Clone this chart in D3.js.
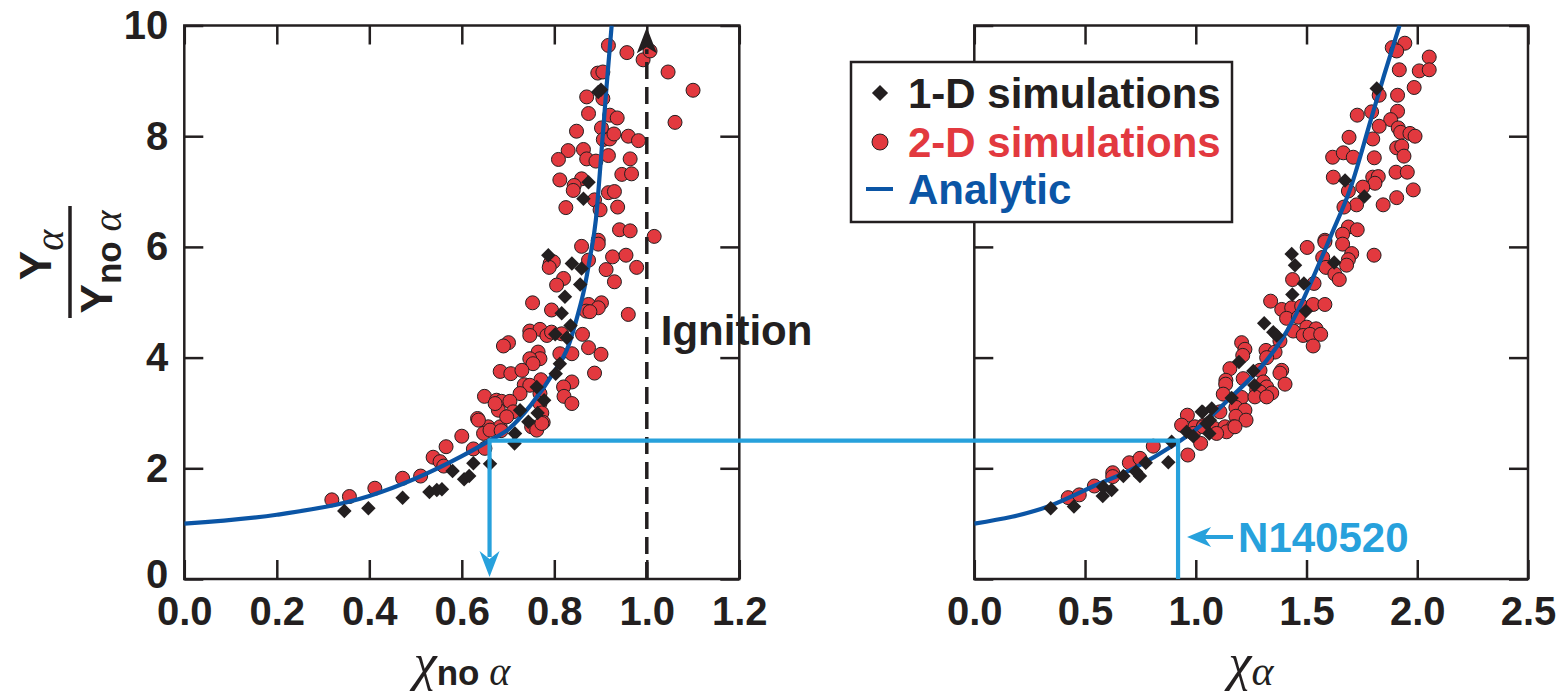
<!DOCTYPE html>
<html>
<head>
<meta charset="utf-8">
<script src="https://cdn.jsdelivr.net/npm/d3@7"></script>
<style>
  body { margin: 0; background: #fff; }
  svg text { font-family: "Liberation Sans", Arial, Helvetica, sans-serif; font-weight: bold; fill: #231f20; }
  .greek { font-family: "Liberation Serif", "DejaVu Serif", serif; font-style: italic; font-weight: normal; }
</style>
</head>
<body>
<div id="chart"></div>
<script>
// ---- data ----
// left panel: x = chi_no_alpha, y = Y_alpha / Y_no_alpha
const leftCircles = [
  [0.917,9.64],[0.957,9.51],[0.992,9.38],[1.007,9.54],[1.046,9.16],[1.10,8.83],[1.061,8.25],[0.894,9.14],[0.905,9.16],
  [0.870,8.71],[0.905,8.68],[0.874,8.41],[0.920,8.38],[0.936,8.33],[0.848,8.09],[0.902,8.15],[0.906,7.94],[0.920,7.95],
  [0.929,8.04],[0.960,8.0],[0.982,7.92],[0.830,7.74],[0.809,7.58],[0.863,7.76],[0.870,7.59],[0.890,7.55],[0.917,7.65],
  [0.964,7.59],[0.946,7.31],[0.967,7.32],[0.812,7.21],[0.859,7.23],[0.843,7.11],[0.841,7.02],[0.917,6.98],[0.930,7.0],
  [0.887,6.85],[0.899,6.67],[0.937,6.72],[0.825,6.71],[0.941,6.31],[0.964,6.29],[1.016,6.19],[0.895,6.12],
  [0.859,6.01],[0.895,6.05],[0.791,5.70],[0.798,5.73],[0.789,5.63],[0.874,5.76],[0.926,5.82],[0.955,5.85],[0.912,5.59],
  [0.978,5.63],[0.820,5.43],[0.805,5.31],[0.930,5.37],[0.753,4.99],[0.794,4.86],[0.874,4.96],[0.902,4.99],[0.895,4.90],
  [0.869,4.84],[0.877,4.83],[0.960,4.78],[0.747,4.48],[0.769,4.51],[0.747,4.40],[0.784,4.40],[0.794,4.46],[0.816,4.43],
  [0.861,4.42],[0.701,4.27],[0.690,4.21],[0.874,4.18],[0.901,4.06],[0.765,4.10],[0.769,3.98],[0.747,3.98],[0.754,3.89],
  [0.812,4.07],[0.838,4.07],[0.683,3.75],[0.706,3.71],[0.730,3.77],[0.887,3.72],[0.771,3.60],[0.838,3.56],[0.820,3.47],
  [0.735,3.51],[0.747,3.50],[0.726,3.35],[0.769,3.35],[0.821,3.30],[0.838,3.17],[0.649,3.30],[0.675,3.23],[0.686,3.21],
  [0.704,3.21],[0.679,3.05],[0.711,3.02],[0.769,3.17],[0.773,3.0],[0.634,2.90],[0.657,2.75],[0.683,2.75],[0.776,2.83],
  [0.751,2.75],[0.319,1.43],[0.357,1.49],[0.412,1.64],[0.472,1.82],[0.511,1.86],[0.538,2.20],[0.553,2.12],[0.561,2.04],
  [0.566,2.39],[0.600,2.58],[0.625,2.35],[0.636,2.87],[0.647,2.63],[0.661,2.69],[0.685,2.68],[0.650,2.36],[0.672,3.17],
  [0.697,2.93],[0.762,2.69],[0.773,2.81]
];
const leftDiamonds = [
  [0.901,8.84],[0.895,8.80],[0.874,7.17],[0.863,6.87],[0.787,5.85],[0.838,5.70],[0.859,5.61],[0.856,5.32],[0.823,5.10],
  [0.816,4.80],[0.835,4.58],[0.802,4.42],[0.827,4.36],[0.812,3.89],[0.803,3.71],[0.762,3.47],[0.778,3.23],[0.726,3.05],
  [0.764,3.0],[0.744,2.84],[0.346,1.23],[0.398,1.28],[0.472,1.47],[0.530,1.57],[0.546,1.61],[0.557,1.62],[0.580,1.95],
  [0.605,1.80],[0.616,1.86],[0.625,2.09],[0.661,2.08],[0.714,2.45],[0.715,2.63]
];
const leftAnalytic = [
  [0,1.0],[0.2,1.16],[0.4,1.5],[0.6,2.22],[0.66,2.5],[0.7,2.7],[0.75,3.15],[0.8,3.75],[0.83,4.2],[0.85,4.75],
  [0.865,5.25],[0.877,5.8],[0.89,6.5],[0.9,7.5],[0.913,8.9],[0.924,10.0]
];

// right panel: x = chi_alpha
const rightCircles = [
  [1.887,9.60],[1.944,9.68],[1.907,9.54],[2.054,9.43],[2.009,9.18],[2.054,9.20],[1.919,9.20],[1.986,8.88],[1.828,8.74],
  [1.911,8.74],[1.729,8.38],[1.794,8.44],[1.911,8.45],[1.880,8.30],[1.828,8.18],[1.914,8.15],[1.925,8.07],[1.967,8.05],
  [1.990,8.0],[1.692,7.98],[1.799,7.95],[1.907,7.79],[1.930,7.82],[1.940,7.64],[1.618,7.62],[1.666,7.70],[1.711,7.62],
  [1.806,7.61],[1.621,7.26],[1.799,7.26],[1.824,7.27],[1.904,7.35],[1.955,7.35],[1.809,7.15],[1.754,7.08],[1.689,7.01],
  [1.982,7.03],[1.907,6.89],[1.846,6.76],[1.726,6.76],[1.669,6.72],[1.689,6.36],[1.729,6.31],[1.663,6.23],[1.583,6.12],
  [1.503,5.99],[1.583,6.09],[1.663,6.05],[1.805,5.85],[1.573,5.81],[1.704,5.88],[1.588,5.63],[1.689,5.77],[1.681,5.67],
  [1.628,5.51],[1.648,5.41],[1.437,5.41],[1.534,5.34],[1.338,5.02],[1.388,4.87],[1.433,4.90],[1.478,4.93],[1.530,4.96],
  [1.583,4.96],[1.410,4.71],[1.463,4.73],[1.501,4.55],[1.543,4.52],[1.440,4.48],[1.485,4.40],[1.516,4.42],[1.564,4.42],
  [1.530,4.21],[1.380,4.30],[1.207,4.27],[1.222,4.15],[1.212,4.04],[1.317,4.13],[1.358,4.10],[1.320,4.00],[1.154,3.80],
  [1.290,3.77],[1.388,3.77],[1.380,3.72],[1.136,3.59],[1.214,3.62],[1.305,3.56],[1.403,3.52],[1.135,3.52],[1.320,3.47],
  [1.275,3.42],[1.124,3.34],[1.290,3.38],[1.343,3.36],[1.207,3.28],[1.267,3.29],[1.320,3.29],[1.181,3.10],[1.222,3.05],
  [1.181,2.94],[1.227,2.87],[1.109,3.02],[0.962,2.96],[0.936,2.78],[0.996,2.75],[1.037,2.78],[1.084,2.72],[1.132,2.75],
  [1.169,2.75],[0.424,1.47],[0.474,1.52],[0.542,1.68],[0.625,1.92],[0.625,1.85],[0.700,2.10],[0.748,2.18],[0.808,2.40],
  [0.964,2.24],[1.022,2.45],[0.989,2.63],[1.034,2.75],[1.139,2.66],[1.094,2.63],[1.177,2.75]
];
const rightDiamonds = [
  [1.817,8.86],[1.674,7.20],[1.761,6.91],[1.433,5.87],[1.448,5.67],[1.625,5.72],[1.488,5.34],[1.436,5.14],[1.497,4.84],
  [1.309,4.62],[1.350,4.46],[1.365,4.40],[1.195,3.92],[1.260,3.76],[1.265,3.50],[1.162,3.27],[1.027,3.02],[1.072,3.08],
  [1.064,2.87],[0.345,1.28],[0.450,1.31],[0.580,1.50],[0.582,1.66],[0.620,1.61],[0.673,1.86],[0.748,1.86],[0.730,1.94],
  [0.774,2.10],[0.876,2.11],[0.891,2.48],[0.959,2.66],[0.989,2.58],[1.061,2.63],[1.031,3.02],[1.049,2.81]
];
const rightAnalytic = [
  [0,1.0],[0.34,1.32],[0.54,1.68],[0.72,2.0],[0.9,2.42],[1.0,2.7],[1.15,3.25],[1.32,3.95],[1.4,4.4],[1.47,4.92],
  [1.53,5.45],[1.61,6.2],[1.7,7.08],[1.79,8.29],[1.85,9.1],[1.92,10.0]
];

const leftXTicks = [0, 0.2, 0.4, 0.6, 0.8, 1.0, 1.2];
const rightXTicks = [0, 0.5, 1.0, 1.5, 2.0, 2.5];
const yTicks = [0, 2, 4, 6, 8, 10];

// shot N140520 and ignition marker
const shotName = "N140520";
const shotChiNoAlpha = 0.66;
const shotChiAlpha = 0.92;
const shotYield = 2.5;
const ignitionChi = 1.0;

const legendLabels = ["1-D simulations", "2-D simulations", "Analytic"];

// ---- drawing ----
const width = 1564, height = 695;
const ink = "#231f20", red = "#e2393f", navy = "#0b55a5", sky = "#27a1dc";

const svg = d3.select("#chart").append("svg")
    .attr("width", width)
    .attr("height", height);

const y = d3.scaleLinear().domain([0, 10]).range([579, 25.5]);
const xL = d3.scaleLinear().domain([0, 1.2]).range([184.3, 739.3]);
const xR = d3.scaleLinear().domain([0, 2.5]).range([974.3, 1528]);

const diamond = d3.symbol().type(d3.symbolSquare).size(105);

function drawPanel(x, circles, diamonds, analytic, xTicks, withYLabels, id) {
    const [x0, x1] = x.range();
    const [yb, yt] = y.range();
    const g = svg.append("g");

    svg.append("clipPath").attr("id", id)
        .append("rect").attr("x", x0).attr("y", yt).attr("width", x1 - x0).attr("height", yb - yt);

    // axes: all ticks point inward
    const bottom = g.append("g").attr("transform", `translate(0,${yb})`)
        .call(d3.axisBottom(x).tickValues(xTicks).tickFormat(d3.format(".1f")).tickSize(-19).tickPadding(18));
    const top = g.append("g").attr("transform", `translate(0,${yt})`)
        .call(d3.axisTop(x).tickValues(xTicks).tickFormat("").tickSize(-19));
    const left = g.append("g").attr("transform", `translate(${x0},0)`)
        .call(d3.axisLeft(y).tickValues(yTicks).tickFormat(withYLabels ? d3.format("d") : "").tickSize(-19).tickPadding(16));
    const right = g.append("g").attr("transform", `translate(${x1},0)`)
        .call(d3.axisRight(y).tickValues(yTicks).tickFormat("").tickSize(-19));

    [bottom, top, left, right].forEach(a => {
        a.select(".domain").remove();
        a.selectAll(".tick line").attr("stroke", ink).attr("stroke-width", 2.5);
        a.selectAll(".tick text")
            .attr("fill", ink)
            .style("font-size", "40px")
            .style("font-family", '"Liberation Sans", Arial, sans-serif')
            .style("font-weight", "bold");
    });
    // the "0" sits a little above the corner so it clears "0.0"
    left.selectAll(".tick text").filter(d => d === 0).attr("dy", "0.2em");

    g.append("rect")
        .attr("x", x0).attr("y", yt)
        .attr("width", x1 - x0).attr("height", yb - yt)
        .attr("fill", "none").attr("stroke", ink).attr("stroke-width", 2.5);

    const plot = g.append("g").attr("clip-path", `url(#${id})`);

    plot.selectAll("circle").data(circles).enter().append("circle")
        .attr("cx", d => x(d[0]))
        .attr("cy", d => y(d[1]))
        .attr("r", 7)
        .attr("fill", red)
        .attr("stroke", ink)
        .attr("stroke-width", 1);

    plot.append("path")
        .datum(analytic)
        .attr("fill", "none")
        .attr("stroke", navy)
        .attr("stroke-width", 4.2)
        .attr("d", d3.line().x(d => x(d[0])).y(d => y(d[1])).curve(d3.curveMonotoneX));

    plot.selectAll("path.dia").data(diamonds).enter().append("path")
        .attr("class", "dia")
        .attr("d", diamond)
        .attr("transform", d => `translate(${x(d[0])},${y(d[1])}) rotate(45)`)
        .attr("fill", ink);
}

drawPanel(xL, leftCircles, leftDiamonds, leftAnalytic, leftXTicks, true, "clipL");
drawPanel(xR, rightCircles, rightDiamonds, rightAnalytic, rightXTicks, false, "clipR");

// ignition dashed arrow
const ix = xL(ignitionChi);
const tipY = y(9.97);
svg.append("line")
    .attr("x1", ix).attr("x2", ix)
    .attr("y1", y(0)).attr("y2", tipY + 22)
    .attr("stroke", ink).attr("stroke-width", 3.5)
    .attr("stroke-dasharray", "17,8");
svg.append("path")
    .attr("d", `M${ix},${tipY} L${ix - 10},${tipY + 26} L${ix},${tipY + 20} L${ix + 10},${tipY + 26} Z`)
    .attr("fill", ink);
svg.append("text")
    .attr("x", ix + 14).attr("y", 345)
    .style("font-size", "42px")
    .text("Ignition");

// N140520 path between the panels
const ax = xL(shotChiNoAlpha), bx = xR(shotChiAlpha), sy = y(shotYield);
svg.append("path")
    .attr("d", `M${ax},${y(0) - 22} L${ax},${sy} L${bx},${sy} L${bx},${y(0)}`)
    .attr("fill", "none")
    .attr("stroke", sky)
    .attr("stroke-width", 4.2);
svg.append("path")
    .attr("d", `M${ax},${y(0) - 2} L${ax - 10},${y(0) - 28} L${ax},${y(0) - 20} L${ax + 10},${y(0) - 28} Z`)
    .attr("fill", sky);

const ny = 537;
svg.append("line")
    .attr("x1", bx + 18).attr("x2", bx + 55)
    .attr("y1", ny).attr("y2", ny)
    .attr("stroke", sky).attr("stroke-width", 4.2);
svg.append("path")
    .attr("d", `M${bx + 9},${ny} L${bx + 33},${ny - 10} L${bx + 26},${ny} L${bx + 33},${ny + 10} Z`)
    .attr("fill", sky);
svg.append("text")
    .attr("x", bx + 60).attr("y", ny + 15)
    .style("font-size", "42px")
    .style("fill", sky)
    .text(shotName);

// legend
const lg = svg.append("g");
lg.append("rect")
    .attr("x", 851).attr("y", 62).attr("width", 381).attr("height", 160)
    .attr("fill", "#fff").attr("stroke", ink).attr("stroke-width", 2.5);
const rowY = [93, 142, 189];
const rowColor = [ink, red, navy];
lg.append("path")
    .attr("d", d3.symbol().type(d3.symbolSquare).size(130))
    .attr("transform", `translate(880,${rowY[0]}) rotate(45)`)
    .attr("fill", ink);
lg.append("circle")
    .attr("cx", 880).attr("cy", rowY[1]).attr("r", 8)
    .attr("fill", red).attr("stroke", ink).attr("stroke-width", 1);
lg.append("line")
    .attr("x1", 866).attr("x2", 893).attr("y1", rowY[2]).attr("y2", rowY[2])
    .attr("stroke", navy).attr("stroke-width", 4);
lg.selectAll("text.leg").data(legendLabels).enter().append("text")
    .attr("class", "leg")
    .attr("x", 908)
    .attr("y", (d, i) => rowY[i] + 15)
    .style("font-size", "42px")
    .style("fill", (d, i) => rowColor[i])
    .text(d => d);

// y axis title: Y_alpha / Y_no alpha
const yt = svg.append("g").attr("transform", "translate(70,262) rotate(-90)");
yt.append("line").attr("x1", -56).attr("x2", 56).attr("y1", 0).attr("y2", 0)
    .attr("stroke", ink).attr("stroke-width", 3.5);
const num = yt.append("text").attr("x", 7).attr("y", -19).attr("text-anchor", "middle").style("font-size", "44px");
num.append("tspan").text("Y");
num.append("tspan").attr("class", "greek").attr("dy", 12).style("font-size", "40px").text("α");
const den = yt.append("text").attr("x", 0).attr("y", 42).attr("text-anchor", "middle").style("font-size", "44px");
den.append("tspan").text("Y");
den.append("tspan").attr("dy", 9).style("font-size", "35px").text("no ");
den.append("tspan").attr("class", "greek").style("font-size", "40px").text("α");

// x axis titles
const xt1 = svg.append("text").attr("x", 462).attr("y", 680).attr("text-anchor", "middle");
xt1.append("tspan").attr("class", "greek").style("font-size", "52px").text("χ");
xt1.append("tspan").attr("dy", 5).style("font-size", "35px").text("no ");
xt1.append("tspan").attr("class", "greek").style("font-size", "40px").text("α");

const xt2 = svg.append("text").attr("x", 1251).attr("y", 680).attr("text-anchor", "middle");
xt2.append("tspan").attr("class", "greek").style("font-size", "52px").text("χ");
xt2.append("tspan").attr("class", "greek").attr("dy", 5).style("font-size", "42px").text("α");
</script>
</body>
</html>
